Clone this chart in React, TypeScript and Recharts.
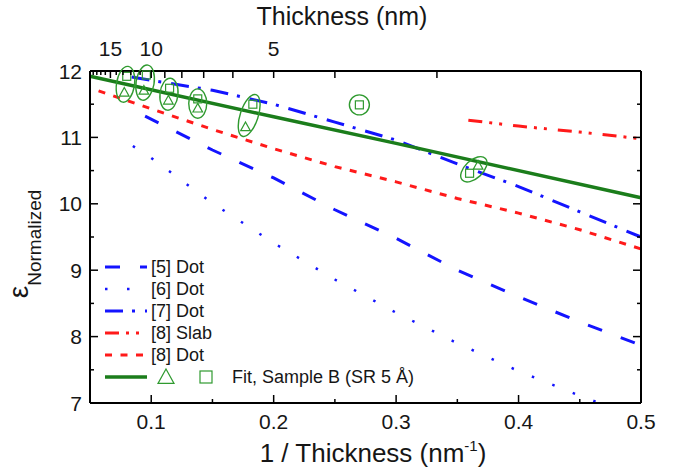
import { ComposedChart, Line, Scatter, XAxis, YAxis, Legend } from "recharts"

const FONT = "'Liberation Sans', Arial, sans-serif"
const BLUE = "#1414ff"
const RED = "#ff1a1a"
const GREEN = "#1b7d1b"
const MARK = "#2f9a2f"

const X_DOMAIN: [number, number] = [0.05, 0.5]
const Y_DOMAIN: [number, number] = [7, 12]

// axis ticks
const BOTTOM_TICKS = [0.1, 0.15, 0.2, 0.25, 0.3, 0.35, 0.4, 0.45, 0.5]
const BOTTOM_LABELS = [0.1, 0.2, 0.3, 0.4, 0.5]
const LEFT_TICKS = [7, 7.5, 8, 8.5, 9, 9.5, 10, 10.5, 11, 11.5, 12]
const LEFT_LABELS = [7, 8, 9, 10, 11, 12]
const THICKNESS_TICKS = [2, 3, 4, 5, 6, 7, 8, 9, 10, 11, 12, 13, 14, 15, 16, 17, 18, 19, 20]
const THICKNESS_LABELS = [5, 10, 15]

// model curves, [1/thickness, eps]
const DOT5: [number, number][] = [
    [0.095, 11.32], [0.15, 10.81], [0.2, 10.39], [0.25, 9.91], [0.3, 9.48],
    [0.35, 9.0], [0.4, 8.6], [0.45, 8.22], [0.5, 7.87],
]
const DOT6: [number, number][] = [
    [0.085, 10.87], [0.1, 10.69], [0.15, 10.01], [0.2, 9.41], [0.25, 8.86],
    [0.3, 8.36], [0.35, 7.9], [0.4, 7.48], [0.45, 7.11], [0.466, 7.0],
]
const DOT7: [number, number][] = [
    [0.084, 11.91], [0.1, 11.86], [0.15, 11.71], [0.2, 11.5], [0.25, 11.23],
    [0.3, 10.96], [0.35, 10.6], [0.4, 10.26], [0.45, 9.88], [0.5, 9.5],
]
const SLAB8: [number, number][] = [[0.359, 11.26], [0.4, 11.17], [0.45, 11.08], [0.5, 10.98]]
const DOT8: [number, number][] = [
    [0.057, 11.7], [0.1, 11.43], [0.15, 11.12], [0.2, 10.83], [0.25, 10.56],
    [0.3, 10.33], [0.35, 10.08], [0.4, 9.86], [0.45, 9.61], [0.5, 9.32],
]
const FIT: [number, number][] = [[0.05, 11.92], [0.2, 11.31], [0.3, 10.91], [0.5, 10.09]]

// sample B measurements
const SQUARES: [number, number][] = [
    [0.08, 11.92], [0.096, 11.94], [0.115, 11.74], [0.138, 11.58],
    [0.183, 11.5], [0.27, 11.49], [0.36, 10.46],
]
const TRIANGLES: ([number, number] | null)[] = [
    [0.078, 11.68], [0.094, 11.71], [0.114, 11.56], [0.138, 11.44],
    [0.177, 11.16], null, [0.367, 10.58],
]

const W = 679
const H = 472
const M_LEFT = 90
const M_RIGHT = 38
const M_TOP = 71
const M_BOTTOM = 69
const PX_X = (W - M_LEFT - M_RIGHT) / (X_DOMAIN[1] - X_DOMAIN[0])
const PX_Y = (H - M_TOP - M_BOTTOM) / (Y_DOMAIN[1] - Y_DOMAIN[0])

const toXY = (pts: [number, number][]) => pts.map(([x, y]) => ({ x, y }))

const LINES = [
    { name: "[5] Dot", data: DOT5, color: BLUE, dash: "15 20" },
    { name: "[6] Dot", data: DOT6, color: BLUE, dash: "2.5 19.5", width: 2.5 },
    { name: "[7] Dot", data: DOT7, color: BLUE, dash: "18 9 3 10" },
    { name: "[8] Slab", data: SLAB8, color: RED, dash: "14 7 3 7 3 11" },
    { name: "[8] Dot", data: DOT8, color: RED, dash: "7 8.5" },
]

const rings = SQUARES.map(([sx, sy], i) => {
    const t = TRIANGLES[i]
    if (!t) return { x: sx, y: sy, dx: 0, dy: 0, single: true }
    return { x: (sx + t[0]) / 2, y: (sy + t[1]) / 2, dx: t[0] - sx, dy: t[1] - sy, single: false }
})

const txt = { fontFamily: FONT, fill: "#161616" }

// marker half-size is "half" so it doesn't clash with the size prop Scatter passes in
function Triangle({ cx, cy, half = 4.8 }: any) {
    return (
        <path
            d={`M${cx},${cy - half} L${cx + half},${cy + half * 0.8} L${cx - half},${cy + half * 0.8} Z`}
            fill="none"
            stroke={MARK}
            strokeWidth={1.2}
        />
    )
}

function Square({ cx, cy, half = 4 }: any) {
    return (
        <rect x={cx - half} y={cy - half} width={half * 2} height={half * 2} fill="none" stroke={MARK} strokeWidth={1.2} />
    )
}

function Ring({ cx, cy, payload }: any) {
    if (payload.single) {
        return <circle cx={cx} cy={cy} r={10} fill="none" stroke={MARK} strokeWidth={1.4} />
    }
    const dx = payload.dx * PX_X
    const dy = -payload.dy * PX_Y
    const ang = (Math.atan2(dy, dx) * 180) / Math.PI
    return (
        <ellipse
            cx={cx}
            cy={cy}
            rx={Math.hypot(dx, dy) / 2 + 10}
            ry={9}
            transform={`rotate(${ang} ${cx} ${cy})`}
            fill="none"
            stroke={MARK}
            strokeWidth={1.4}
        />
    )
}

function BottomTick({ x, y, payload }: any) {
    const major = BOTTOM_LABELS.includes(payload.value)
    return (
        <g>
            <line x1={x} x2={x} y1={y} y2={y - (major ? 8 : 4)} stroke="#000" strokeWidth={1.5} />
            {major && (
                <text x={x} y={y + 26} textAnchor="middle" fontSize={21} {...txt}>
                    {payload.value}
                </text>
            )}
        </g>
    )
}

function TopTick({ x, y, payload }: any) {
    const t = Math.round(1 / payload.value)
    const labelled = THICKNESS_LABELS.includes(t)
    const len = t <= 10 || labelled ? 7 : 4
    return (
        <g>
            <line x1={x} x2={x} y1={y} y2={y + len} stroke="#000" strokeWidth={1.5} />
            {labelled && (
                <text x={x} y={y - 15} textAnchor="middle" fontSize={21} {...txt}>
                    {t}
                </text>
            )}
        </g>
    )
}

function LeftTick({ x, y, payload }: any) {
    const major = LEFT_LABELS.includes(payload.value)
    return (
        <g>
            <line x1={x} x2={x + (major ? 8 : 4)} y1={y} y2={y} stroke="#000" strokeWidth={1.5} />
            {major && (
                <text x={x - 8} y={y + 7.5} textAnchor="end" fontSize={21} {...txt}>
                    {payload.value}
                </text>
            )}
        </g>
    )
}

function RightTick({ x, y, payload }: any) {
    const major = LEFT_LABELS.includes(payload.value)
    return <line x1={x} x2={x - (major ? 8 : 4)} y1={y} y2={y} stroke="#000" strokeWidth={1.5} />
}

function BottomTitle({ viewBox }: any) {
    return (
        <text x={viewBox.x + 283} y={viewBox.y + 59} textAnchor="middle" fontSize={26} {...txt}>
            1 / Thickness (nm
            <tspan dy={-11} fontSize={15}>-1</tspan>
            <tspan dy={11}>)</tspan>
        </text>
    )
}

function TopTitle({ viewBox }: any) {
    return (
        <text x={viewBox.x + 252} y={25} textAnchor="middle" fontSize={25} {...txt}>
            Thickness (nm)
        </text>
    )
}

function LeftTitle({ viewBox }: any) {
    const x = 28
    const y = viewBox.y + viewBox.height / 2 + 7
    return (
        <text x={x} y={y} transform={`rotate(-90 ${x} ${y})`} textAnchor="middle" fontSize={28} {...txt}>
            ε<tspan dy={13} fontSize={19}>Normalized</tspan>
        </text>
    )
}

function LegendBox() {
    const row = 22
    return (
        <svg width={280} height={140} style={{ overflow: "visible" }}>
            {LINES.map((s, i) => (
                <g key={s.name}>
                    <line
                        x1={10}
                        x2={52}
                        y1={11 + i * row}
                        y2={11 + i * row}
                        stroke={s.color}
                        strokeWidth={s.width ?? 3}
                        strokeDasharray={s.dash}
                    />
                    <text x={56} y={17 + i * row} fontSize={18} {...txt}>
                        {s.name}
                    </text>
                </g>
            ))}
            <line x1={10} x2={52} y1={11 + 5 * row} y2={11 + 5 * row} stroke={GREEN} strokeWidth={3.5} />
            <Triangle cx={71} cy={11 + 5 * row} half={8} />
            <Square cx={111} cy={11 + 5 * row} half={6} />
            <text x={137} y={17 + 5 * row} fontSize={18} {...txt}>
                Fit, Sample B (SR 5 Å)
            </text>
        </svg>
    )
}

export default function App() {
    return (
        <div style={{ position: "absolute", left: 0, top: 0, width: W, height: H, background: "#fff" }}>
            <ComposedChart width={W} height={H} margin={{ top: 0, right: 0, bottom: 0, left: 0 }}>
                <XAxis
                    xAxisId="b"
                    type="number"
                    dataKey="x"
                    domain={X_DOMAIN}
                    ticks={BOTTOM_TICKS}
                    interval={0}
                    height={M_BOTTOM}
                    tickLine={false}
                    tickSize={0}
                    tickMargin={0}
                    tick={<BottomTick />}
                    axisLine={{ stroke: "#000", strokeWidth: 2 }}
                    label={<BottomTitle />}
                />
                <XAxis
                    xAxisId="t"
                    orientation="top"
                    type="number"
                    dataKey="x"
                    domain={X_DOMAIN}
                    allowDataOverflow
                    ticks={THICKNESS_TICKS.map((t) => 1 / t)}
                    interval={0}
                    height={M_TOP}
                    tickLine={false}
                    tickSize={0}
                    tickMargin={0}
                    tick={<TopTick />}
                    axisLine={{ stroke: "#000", strokeWidth: 2 }}
                    label={<TopTitle />}
                />
                <YAxis
                    yAxisId="l"
                    type="number"
                    dataKey="y"
                    domain={Y_DOMAIN}
                    ticks={LEFT_TICKS}
                    interval={0}
                    width={M_LEFT}
                    tickLine={false}
                    tickSize={0}
                    tickMargin={0}
                    tick={<LeftTick />}
                    axisLine={{ stroke: "#000", strokeWidth: 2 }}
                    label={<LeftTitle />}
                />
                <YAxis
                    yAxisId="r"
                    orientation="right"
                    type="number"
                    dataKey="y"
                    domain={Y_DOMAIN}
                    allowDataOverflow
                    ticks={LEFT_TICKS}
                    interval={0}
                    width={M_RIGHT}
                    tickLine={false}
                    tickSize={0}
                    tickMargin={0}
                    tick={<RightTick />}
                    axisLine={{ stroke: "#000", strokeWidth: 2 }}
                />

                {LINES.map((s) => (
                    <Line
                        key={s.name}
                        xAxisId="b"
                        yAxisId="l"
                        data={toXY(s.data)}
                        dataKey="y"
                        name={s.name}
                        type="linear"
                        stroke={s.color}
                        strokeWidth={s.width ?? 3}
                        strokeDasharray={s.dash}
                        dot={false}
                        activeDot={false}
                        isAnimationActive={false}
                    />
                ))}
                <Line
                    xAxisId="b"
                    yAxisId="l"
                    data={toXY(FIT)}
                    dataKey="y"
                    name="Fit"
                    type="linear"
                    stroke={GREEN}
                    strokeWidth={3.5}
                    dot={false}
                    activeDot={false}
                    isAnimationActive={false}
                />
                <Scatter
                    xAxisId="b"
                    yAxisId="l"
                    data={toXY(TRIANGLES.filter((t): t is [number, number] => t !== null))}
                    shape={(p: any) => <Triangle cx={p.cx} cy={p.cy} />}
                    isAnimationActive={false}
                />
                <Scatter
                    xAxisId="b"
                    yAxisId="l"
                    data={toXY(SQUARES)}
                    shape={(p: any) => <Square cx={p.cx} cy={p.cy} />}
                    isAnimationActive={false}
                />
                <Scatter
                    xAxisId="b"
                    yAxisId="l"
                    data={rings}
                    shape={(p: any) => <Ring cx={p.cx} cy={p.cy} payload={p.payload} />}
                    isAnimationActive={false}
                />

                <Legend
                    layout="vertical"
                    align="center"
                    verticalAlign="middle"
                    wrapperStyle={{ left: 95, top: 256, width: 280, height: 140 }}
                    content={() => <LegendBox />}
                />
            </ComposedChart>
        </div>
    )
}
